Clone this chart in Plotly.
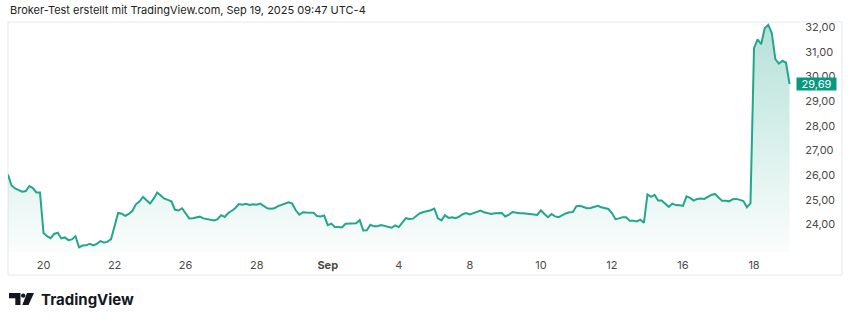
import plotly.graph_objects as go

# ---- data: intraday closes, 10 samples per trading session ----
sessions = ["2025-08-19", "2025-08-20", "2025-08-21", "2025-08-22", "2025-08-25",
            "2025-08-26", "2025-08-27", "2025-08-28", "2025-08-29", "2025-09-02",
            "2025-09-03", "2025-09-04", "2025-09-05", "2025-09-08", "2025-09-09",
            "2025-09-10", "2025-09-11", "2025-09-12", "2025-09-15", "2025-09-16",
            "2025-09-17", "2025-09-18", "2025-09-19"]
samples_per_session = 10

aug19 = [26.02, 25.58, 25.46, 25.41, 25.33, 25.36, 25.56, 25.48, 25.30, 25.30]
aug20 = [23.66, 23.53, 23.45, 23.62, 23.67, 23.44, 23.48, 23.37, 23.40, 23.53]
aug21 = [23.08, 23.15, 23.16, 23.22, 23.16, 23.22, 23.33, 23.28, 23.30, 23.41]
aug22 = [24.00, 24.47, 24.44, 24.35, 24.43, 24.55, 24.82, 24.93, 25.12, 24.98]
aug25 = [24.85, 25.05, 25.30, 25.18, 25.05, 25.00, 24.94, 24.60, 24.57, 24.66]
aug26 = [24.43, 24.25, 24.26, 24.28, 24.32, 24.25, 24.22, 24.21, 24.17, 24.22]
aug27 = [24.38, 24.31, 24.47, 24.56, 24.67, 24.83, 24.80, 24.84, 24.79, 24.82]
aug28 = [24.80, 24.85, 24.75, 24.66, 24.64, 24.66, 24.75, 24.80, 24.88, 24.90]
aug29 = [24.85, 24.58, 24.40, 24.50, 24.49, 24.48, 24.48, 24.35, 24.33, 24.37]
sep02 = [23.98, 24.04, 23.90, 23.90, 23.88, 24.03, 24.04, 24.04, 24.05, 24.18]
sep03 = [23.76, 23.77, 23.99, 23.93, 23.93, 23.98, 23.94, 23.88, 23.87, 23.97]
sep04 = [23.90, 24.08, 24.26, 24.23, 24.24, 24.36, 24.46, 24.51, 24.53, 24.58]
sep05 = [24.65, 24.25, 24.17, 24.38, 24.27, 24.30, 24.26, 24.32, 24.42, 24.47]
sep08 = [24.41, 24.47, 24.54, 24.57, 24.50, 24.45, 24.43, 24.46, 24.47, 24.47]
sep09 = [24.33, 24.40, 24.51, 24.47, 24.46, 24.46, 24.45, 24.45, 24.41, 24.39]
sep10 = [24.58, 24.43, 24.30, 24.43, 24.33, 24.30, 24.38, 24.45, 24.50, 24.51]
sep11 = [24.74, 24.76, 24.71, 24.66, 24.67, 24.72, 24.76, 24.70, 24.67, 24.63]
sep12 = [24.47, 24.22, 24.25, 24.30, 24.30, 24.16, 24.16, 24.13, 24.20, 24.07]
sep15 = [25.22, 25.12, 25.20, 24.97, 24.97, 24.85, 24.72, 24.85, 24.79, 24.78]
sep16 = [24.76, 25.14, 25.08, 24.97, 25.04, 25.06, 25.04, 25.12, 25.20, 25.24]
sep17 = [25.10, 24.96, 24.96, 24.94, 25.03, 25.04, 25.00, 24.95, 24.70, 24.86]
sep18 = [31.15, 31.50, 31.30, 31.95, 32.08, 31.75, 30.70, 30.52, 30.63, 30.55]
sep19 = [29.69]

session_closes = [aug19, aug20, aug21, aug22, aug25, aug26, aug27, aug28, aug29,
                  sep02, sep03, sep04, sep05, sep08, sep09, sep10, sep11, sep12,
                  sep15, sep16, sep17, sep18, sep19]

tick_sessions = ["2025-08-20", "2025-08-22", "2025-08-26", "2025-08-28", "2025-09-02",
                 "2025-09-04", "2025-09-08", "2025-09-10", "2025-09-12", "2025-09-16",
                 "2025-09-18"]
tick_text = ["20", "22", "26", "28", "<b>Sep</b>", "4", "8", "10", "12", "16", "18"]
price_ticks = [24, 25, 26, 27, 28, 29, 30, 31, 32]

title_text = "Broker-Test erstellt mit TradingView.com, Sep 19, 2025 09:47 UTC-4"

# ---- build series on a trading-session axis ----
xs, ys = [], []
for i, vals in enumerate(session_closes):
    for k, v in enumerate(vals):
        xs.append(i + k / samples_per_session)
        ys.append(v)
tickvals = [sessions.index(s) for s in tick_sessions]
last = ys[-1]

LINE = "#22a68c"
TAG = "#089981"

# pixel geometry helpers (plot area: x 8..794, y 22..252)
L, R, T, B = 8, 794, 22, 252
W, H = R - L, B - T
def px(x):
    return (x - L) / W
def py(y):
    return (B - y) / H

fig = go.Figure()
fig.add_trace(go.Scatter(
    x=xs, y=ys, mode="lines",
    line=dict(color=LINE, width=2),
    fill="tozeroy",
    fillgradient=dict(type="vertical", start=22.9, stop=32.2,
                      colorscale=[[0, "rgba(34,166,140,0.02)"],
                                  [1, "rgba(34,166,140,0.34)"]]),
    hoverinfo="skip", showlegend=False,
))

fig.update_layout(
    width=850, height=323,
    margin=dict(l=L, r=850 - R, t=T, b=323 - B),
    paper_bgcolor="white", plot_bgcolor="white",
    separators=",.",
    font=dict(family="Inter, Roboto, sans-serif", size=11, color="#4a4a4a"),
    xaxis=dict(range=[0, 22.125], tickvals=tickvals, ticktext=tick_text,
               showgrid=False, zeroline=False, showline=False,
               ticks="outside", ticklen=3, tickcolor="rgba(0,0,0,0)",
               tickfont=dict(size=11, color="#4a4a4a")),
    yaxis=dict(range=[22.89, 32.2], side="right", tickvals=price_ticks,
               tickformat=".2f", showgrid=False, zeroline=False, showline=False,
               ticks="outside", ticklen=8, tickcolor="rgba(0,0,0,0)",
               tickfont=dict(size=11, color="#4a4a4a")),
)

# frame border
fig.add_shape(type="rect", xref="paper", yref="paper",
              x0=px(8), x1=px(842), y0=py(275), y1=py(22),
              line=dict(color="#e6e8ee", width=1), fillcolor="rgba(0,0,0,0)",
              layer="below")

# title
fig.add_annotation(text=title_text, xref="paper", yref="paper",
                   x=px(8), y=py(10), xanchor="left", yanchor="middle",
                   showarrow=False,
                   font=dict(family="Inter, sans-serif", size=11, color="#222"))

# last price tag
fig.add_annotation(text=f"{last:.2f}".replace(".", ","), xref="paper", yref="y",
                   x=px(816.5), y=last, xanchor="center", yanchor="middle",
                   showarrow=False, bgcolor=TAG, width=39, height=12,
                   borderpad=0,
                   font=dict(family="Inter, sans-serif", size=11, color="white"))

# TradingView logo mark
logo_col = "#131722"
def path(points):
    return "M " + " L ".join(f"{px(a)},{py(b)}" for a, b in points) + " Z"
fig.add_shape(type="path", xref="paper", yref="paper",
              path=path([(9, 293), (20.5, 293), (20.5, 305), (15.3, 305), (15.3, 298.2), (9, 298.2)]),
              fillcolor=logo_col, line=dict(width=0))
fig.add_shape(type="circle", xref="paper", yref="paper",
              x0=px(21.0), x1=px(25.4), y0=py(297.8), y1=py(293.4),
              fillcolor=logo_col, line=dict(width=0))
fig.add_shape(type="path", xref="paper", yref="paper",
              path=path([(27, 293), (34, 293), (28.5, 305), (22.3, 305)]),
              fillcolor=logo_col, line=dict(width=0))
fig.add_annotation(text="<b>TradingView</b>", xref="paper", yref="paper",
                   x=px(38.5), y=py(299), xanchor="left", yanchor="middle",
                   showarrow=False,
                   font=dict(family="Inter, sans-serif", size=15, color=logo_col))

fig.write_html("out.html")
